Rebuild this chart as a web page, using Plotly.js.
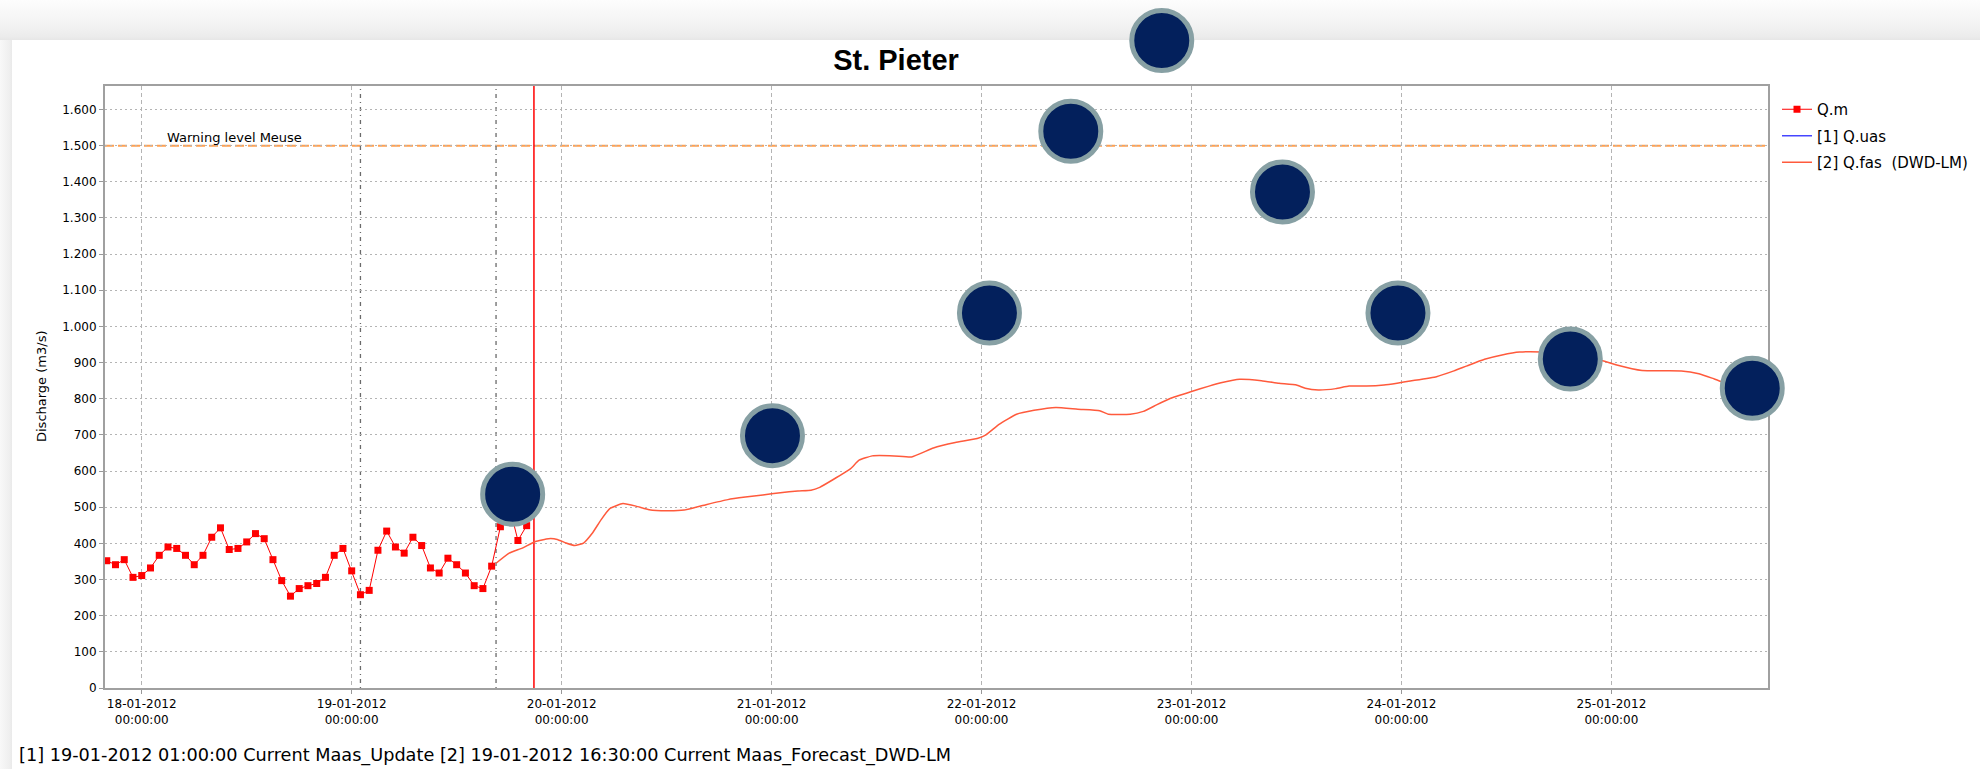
<!DOCTYPE html>
<html>
<head>
<meta charset="utf-8">
<script src="https://cdn.plot.ly/plotly-3.0.1.min.js"></script>
<style>
  html, body { margin: 0; padding: 0; width: 1980px; height: 769px; overflow: hidden; background: #ffffff; }
  #band { position: absolute; left: 0; top: 0; width: 1980px; height: 40px;
          background: linear-gradient(to bottom, #fdfdfd 0px, #f4f4f4 22px, #ececec 36px, #e6e6e6 40px); }
  #side { position: absolute; left: 0; top: 40px; width: 12px; height: 729px;
          background: linear-gradient(to right, #f8f8f8, #eeeeee 10px, #e9e9e9 12px); }
  #chart { position: absolute; left: 0; top: 0; width: 1980px; height: 769px; }
</style>
</head>
<body>
<div id="band"></div>
<div id="side"></div>
<div id="chart"></div>
<script>
// Measured discharge Q.m at St. Pieter, hourly (m3/s)
const measuredTimes = [
  '2012-01-17 20:00','2012-01-17 21:00','2012-01-17 22:00','2012-01-17 23:00',
  '2012-01-18 00:00','2012-01-18 01:00','2012-01-18 02:00','2012-01-18 03:00','2012-01-18 04:00','2012-01-18 05:00',
  '2012-01-18 06:00','2012-01-18 07:00','2012-01-18 08:00','2012-01-18 09:00','2012-01-18 10:00','2012-01-18 11:00',
  '2012-01-18 12:00','2012-01-18 13:00','2012-01-18 14:00','2012-01-18 15:00','2012-01-18 16:00','2012-01-18 17:00',
  '2012-01-18 18:00','2012-01-18 19:00','2012-01-18 20:00','2012-01-18 21:00','2012-01-18 22:00','2012-01-18 23:00',
  '2012-01-19 00:00','2012-01-19 01:00','2012-01-19 02:00','2012-01-19 03:00','2012-01-19 04:00','2012-01-19 05:00',
  '2012-01-19 06:00','2012-01-19 07:00','2012-01-19 08:00','2012-01-19 09:00','2012-01-19 10:00','2012-01-19 11:00',
  '2012-01-19 12:00','2012-01-19 13:00','2012-01-19 14:00','2012-01-19 15:00','2012-01-19 16:00','2012-01-19 17:00',
  '2012-01-19 18:00','2012-01-19 19:00','2012-01-19 20:00'
];
const measuredQ = [
  352, 341, 355, 306,
  311, 332, 367, 390, 386, 367,
  341, 367, 417, 443, 383, 386,
  404, 427, 413, 355, 297, 254,
  275, 283, 289, 306, 367, 386,
  324, 258, 270, 381, 434, 390,
  373, 417, 394, 332, 318, 359,
  341, 318, 283, 275, 337, 446,
  505, 408, 449
];

// Update run [1] Q.uas: no value inside the shown window
const updateTimes = ['2012-01-19 01:00'];
const updateQ = [null];

// Forecast run [2] Q.fas (DWD-LM)
const forecastTimes = [
  '2012-01-19 16:30','2012-01-19 18:00','2012-01-19 19:30','2012-01-19 21:00','2012-01-19 22:30','2012-01-19 23:30',
  '2012-01-20 00:30','2012-01-20 01:30','2012-01-20 02:30','2012-01-20 03:30','2012-01-20 04:30','2012-01-20 05:30',
  '2012-01-20 07:00','2012-01-20 08:30','2012-01-20 10:00','2012-01-20 12:00','2012-01-20 14:00','2012-01-20 16:30',
  '2012-01-20 19:00','2012-01-20 21:00','2012-01-20 23:00',
  '2012-01-21 01:00','2012-01-21 03:00','2012-01-21 04:30','2012-01-21 05:30','2012-01-21 07:00','2012-01-21 09:00',
  '2012-01-21 10:00','2012-01-21 11:30','2012-01-21 14:00','2012-01-21 16:00','2012-01-21 18:30','2012-01-21 21:00',
  '2012-01-21 23:30',
  '2012-01-22 00:30','2012-01-22 02:00','2012-01-22 04:00','2012-01-22 06:00','2012-01-22 08:30','2012-01-22 11:00',
  '2012-01-22 13:30','2012-01-22 14:30','2012-01-22 17:00','2012-01-22 18:30','2012-01-22 20:00','2012-01-22 21:30',
  '2012-01-23 00:00','2012-01-23 02:00','2012-01-23 03:30','2012-01-23 05:30','2012-01-23 08:00','2012-01-23 10:00',
  '2012-01-23 12:00','2012-01-23 13:00','2012-01-23 14:30','2012-01-23 16:30','2012-01-23 18:00','2012-01-23 20:00',
  '2012-01-23 22:00','2012-01-23 23:30',
  '2012-01-24 01:00','2012-01-24 04:00','2012-01-24 06:00','2012-01-24 07:30','2012-01-24 09:30','2012-01-24 11:30',
  '2012-01-24 13:30','2012-01-24 16:00','2012-01-24 23:00',
  '2012-01-25 00:30','2012-01-25 03:30','2012-01-25 08:00','2012-01-25 10:00','2012-01-25 11:30','2012-01-25 12:30',
  '2012-01-25 16:00'
];
const forecastQ = [
  345, 373, 387, 405, 413, 411,
  401, 394, 401, 428, 465, 496,
  510, 503, 493, 490, 492, 507,
  521, 528, 534,
  540, 545, 547, 555, 576, 606,
  630, 642, 642, 639, 664, 679,
  690,
  700, 729, 757, 768, 776, 771,
  767, 757, 757, 765, 783, 800,
  820, 835, 845, 854, 850, 843,
  838, 829, 824, 828, 835, 835,
  838, 843,
  849, 861, 877, 891, 909, 921,
  929, 929, 905,
  894, 878, 877, 869, 857, 848,
  828
];

// Highlight markers placed over the chart
const markerTimes = [
  '2012-01-19 18:24','2012-01-21 00:06','2012-01-22 00:54','2012-01-22 10:12','2012-01-22 20:36',
  '2012-01-23 10:24','2012-01-23 23:36','2012-01-24 19:18','2012-01-25 16:06'
];
const markerQ = [536, 698, 1037, 1540, 1791, 1372, 1037, 910, 829];

// Reference levels and run times
const warningLevel = 1500;
const warningLabel = 'Warning level Meuse';
const runT0 = ['2012-01-19 01:00', '2012-01-19 16:30'];
const currentTime = '2012-01-19 20:50';
const footerText = '[1] 19-01-2012 01:00:00 Current Maas_Update [2] 19-01-2012 16:30:00 Current Maas_Forecast_DWD-LM';

const FONT = 'DejaVu Sans, Verdana, sans-serif';

// Frame geometry (pixels)
const PLOT_TOP = 86, PLOT_BOTTOM = 688, OUTER_TOP = 20, PLOT_LEFT = 105, PLOT_RIGHT = 1768;
const Y_MAX = 1665;
const DOMAIN_TOP = (PLOT_BOTTOM - PLOT_TOP) / (PLOT_BOTTOM - OUTER_TOP);
const X_RANGE = ['2012-01-17 19:48', '2012-01-25 17:54'];

const traces = [
  {
    x: measuredTimes, y: measuredQ, name: 'Q.m', legendgroup: 'm', type: 'scatter', mode: 'lines+markers',
    line: { color: '#ff0000', width: 1 },
    marker: { symbol: 'square', size: 7, color: '#ff0000' }
  },
  {
    x: updateTimes, y: updateQ, name: '[1] Q.uas', legendgroup: 'uas', type: 'scatter', mode: 'lines',
    line: { color: '#4646ff', width: 1.5 }
  },
  {
    x: forecastTimes, y: forecastQ, name: '[2] Q.fas\u00a0 (DWD-LM)', legendgroup: 'fas', type: 'scatter', mode: 'lines',
    line: { color: '#ff5a3c', width: 1.5, shape: 'spline', smoothing: 0.4 }
  },
  {
    // drawn on an overlay axis pair with the same scale, so markers above the frame stay visible
    x: markerTimes, y: markerQ, xaxis: 'x2', yaxis: 'y2', type: 'scatter', mode: 'markers',
    showlegend: false, hoverinfo: 'skip', cliponaxis: false,
    marker: { size: 60, color: '#03205c', line: { color: '#87a0a4', width: 5 } }
  }
];

const shapes = [
  // warning level
  { type: 'line', xref: 'paper', x0: 0, x1: 1, yref: 'y', y0: warningLevel, y1: warningLevel,
    line: { color: '#ffa050', width: 2, dash: '9px,4px' }, layer: 'below' },
  // run start times
  ...runT0.map(t => ({ type: 'line', xref: 'x', x0: t, x1: t, yref: 'paper', y0: 0, y1: DOMAIN_TOP,
    line: { color: '#6a6a6a', width: 1.3, dash: '1px,4px,4px,4px' }, layer: 'below' })),
  // current time
  { type: 'line', xref: 'x', x0: currentTime, x1: currentTime, yref: 'paper', y0: 0, y1: DOMAIN_TOP,
    line: { color: '#ff0000', width: 1.5 }, layer: 'below' }
];

const annotations = [
  { xref: 'x', x: '2012-01-18 02:40', yref: 'y', y: warningLevel, yanchor: 'bottom', xanchor: 'left',
    yshift: -1, showarrow: false, text: warningLabel, font: { family: FONT, size: 13, color: '#000' } },
  { xref: 'paper', x: (42 - PLOT_LEFT) / (PLOT_RIGHT - PLOT_LEFT), xanchor: 'center',
    yref: 'paper', y: DOMAIN_TOP / 2, yanchor: 'middle', textangle: -90,
    showarrow: false, text: 'Discharge (m3/s)', font: { family: FONT, size: 13, color: '#000' } },
  { xref: 'paper', x: (17 - PLOT_LEFT) / (PLOT_RIGHT - PLOT_LEFT), xanchor: 'left',
    yref: 'paper', y: (PLOT_BOTTOM - 755) / (PLOT_BOTTOM - OUTER_TOP), yanchor: 'middle',
    showarrow: false, text: footerText, font: { family: FONT, size: 17.7, color: '#000' } }
];

const axisCommon = {
  showgrid: true, gridcolor: '#b4b4b4', gridwidth: 1,
  ticks: 'outside', ticklen: 4, tickcolor: '#999', tickwidth: 1,
  showline: true, linecolor: '#a0a0a0', linewidth: 2, mirror: true, zeroline: false,
  tickfont: { family: FONT, size: 12, color: '#000' }, fixedrange: true
};

const layout = {
  width: 1980, height: 769,
  paper_bgcolor: 'rgba(0,0,0,0)', plot_bgcolor: 'rgba(0,0,0,0)',
  margin: { l: PLOT_LEFT, r: 1980 - PLOT_RIGHT, t: OUTER_TOP, b: 769 - PLOT_BOTTOM, pad: 0 },
  separators: ',.',
  font: { family: FONT, size: 12, color: '#000' },
  showlegend: true,
  title: {
    text: '<b>St. Pieter</b>', xref: 'container', x: 896 / 1980, xanchor: 'center',
    yref: 'container', y: 1 - 60 / 769, yanchor: 'middle',
    font: { family: 'Liberation Sans, Arial, sans-serif', size: 29, color: '#000' }
  },
  xaxis: Object.assign({}, axisCommon, {
    type: 'date', range: X_RANGE, anchor: 'y',
    tick0: '2012-01-18', dtick: 86400000, tickformat: '%d-%m-%Y<br>%H:%M:%S',
    griddash: '4px,3px'
  }),
  yaxis: Object.assign({}, axisCommon, {
    domain: [0, DOMAIN_TOP], range: [0, Y_MAX], tick0: 0, dtick: 100, tickformat: ',d',
    griddash: '2px,3px'
  }),
  xaxis2: { type: 'date', range: X_RANGE, anchor: 'y2', visible: false, showgrid: false, zeroline: false, fixedrange: true },
  yaxis2: { domain: [0, 1], range: [0, Y_MAX / DOMAIN_TOP], anchor: 'x2', visible: false, showgrid: false, zeroline: false, fixedrange: true },
  legend: {
    xref: 'container', x: 1777 / 1980, xanchor: 'left',
    yref: 'container', y: 1 - 93 / 769, yanchor: 'top',
    bgcolor: 'rgba(0,0,0,0)', borderwidth: 0, itemwidth: 30, tracegroupgap: 4,
    font: { family: FONT, size: 15, color: '#000' }
  },
  shapes: shapes,
  annotations: annotations,
  hovermode: false
};

Plotly.newPlot('chart', traces, layout, { displayModeBar: false, staticPlot: true });
</script>
</body>
</html>
